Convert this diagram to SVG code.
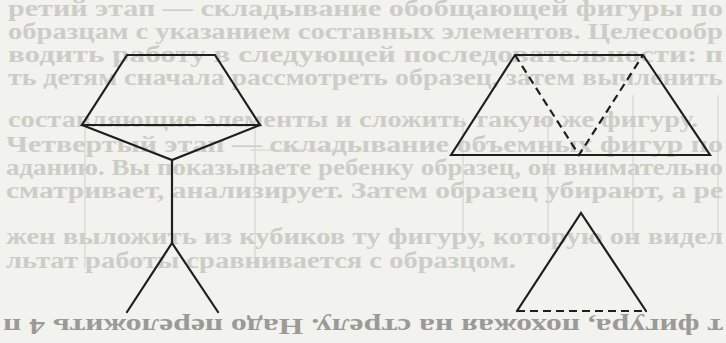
<svg xmlns="http://www.w3.org/2000/svg" width="726" height="343" viewBox="0 0 726 343">
  <style>
    .bg { font-family: "Liberation Serif", "DejaVu Serif", serif; font-size: 23px; font-weight: bold; fill: #cdcdc8; }
    .rev { font-family: "Liberation Serif", "DejaVu Serif", serif; font-size: 23px; font-weight: bold; fill: #9a9a97; }
    .grid { stroke: #dcdcd7; stroke-width: 1.5; fill: none; }
    .solid { stroke: #1f1f1f; stroke-width: 2.2; fill: none; stroke-linejoin: miter; stroke-linecap: round; }
    .dash { stroke: #1f1f1f; stroke-width: 2.2; fill: none; stroke-dasharray: 8 5; }
  </style>
  <rect width="726" height="343" fill="#f2f2ee"/>

  <g id="show-through-grid">
    <path class="grid" d="M85 128 V268 M255 128 V268 M463 118 V240 M548 118 V240 M633 95 V240 M718 95 V240 M250 150 H340"/>
  </g>

  <g id="background-text">
    <text class="bg" x="8" y="16" textLength="715" lengthAdjust="spacingAndGlyphs">ретий этап — складывание обобщающей фигуры по</text>
    <text class="bg" x="8" y="39" textLength="715" lengthAdjust="spacingAndGlyphs">образцам с указанием составных элементов. Целесообр</text>
    <text class="bg" x="8" y="62" textLength="715" lengthAdjust="spacingAndGlyphs">водить работу в следующей последовательности: п</text>
    <text class="bg" x="8" y="85" textLength="715" lengthAdjust="spacingAndGlyphs">ть детям сначала рассмотреть образец, затем вычленить</text>
    <text class="bg" x="8" y="127" textLength="690" lengthAdjust="spacingAndGlyphs">составляющие элементы и сложить такую же фигуру.</text>
    <text class="bg" x="6" y="152" textLength="717" lengthAdjust="spacingAndGlyphs">Четвертый этап — складывание объемных фигур по</text>
    <text class="bg" x="6" y="175" textLength="717" lengthAdjust="spacingAndGlyphs">аданию. Вы показываете ребенку образец, он внимательно</text>
    <text class="bg" x="6" y="198" textLength="717" lengthAdjust="spacingAndGlyphs">сматривает, анализирует. Затем образец убирают, а ре</text>
    <text class="bg" x="6" y="244" textLength="717" lengthAdjust="spacingAndGlyphs">жен выложить из кубиков ту фигуру, которую он видел</text>
    <text class="bg" x="6" y="268" textLength="510" lengthAdjust="spacingAndGlyphs">льтат работы сравнивается с образцом.</text>
  </g>

  <g id="reversed-line" transform="rotate(180 363 319)">
    <text class="rev" x="3" y="319" textLength="720" lengthAdjust="spacingAndGlyphs">т фигура, похожая на стрелу. Надо переложить 4 п</text>
  </g>

  <g id="arrow-figure">
    <path class="solid" d="M127 55 H215 L260 125 H82 Z"/>
    <path class="solid" d="M82 125 L172 160 L260 125"/>
    <path class="solid" d="M172 160 V243"/>
    <path class="solid" d="M127 312 L172 243 L218 312"/>
  </g>

  <g id="trapezoid-figure">
    <path class="solid" d="M451 155 L515 55 H643 L710 155 Z"/>
    <path class="dash" d="M515 55 L579 155 L643 55"/>
  </g>

  <g id="triangle-figure">
    <path class="solid" d="M517 311 L581 213 L646 311"/>
    <path class="dash" d="M517 311 H646"/>
  </g>
</svg>
